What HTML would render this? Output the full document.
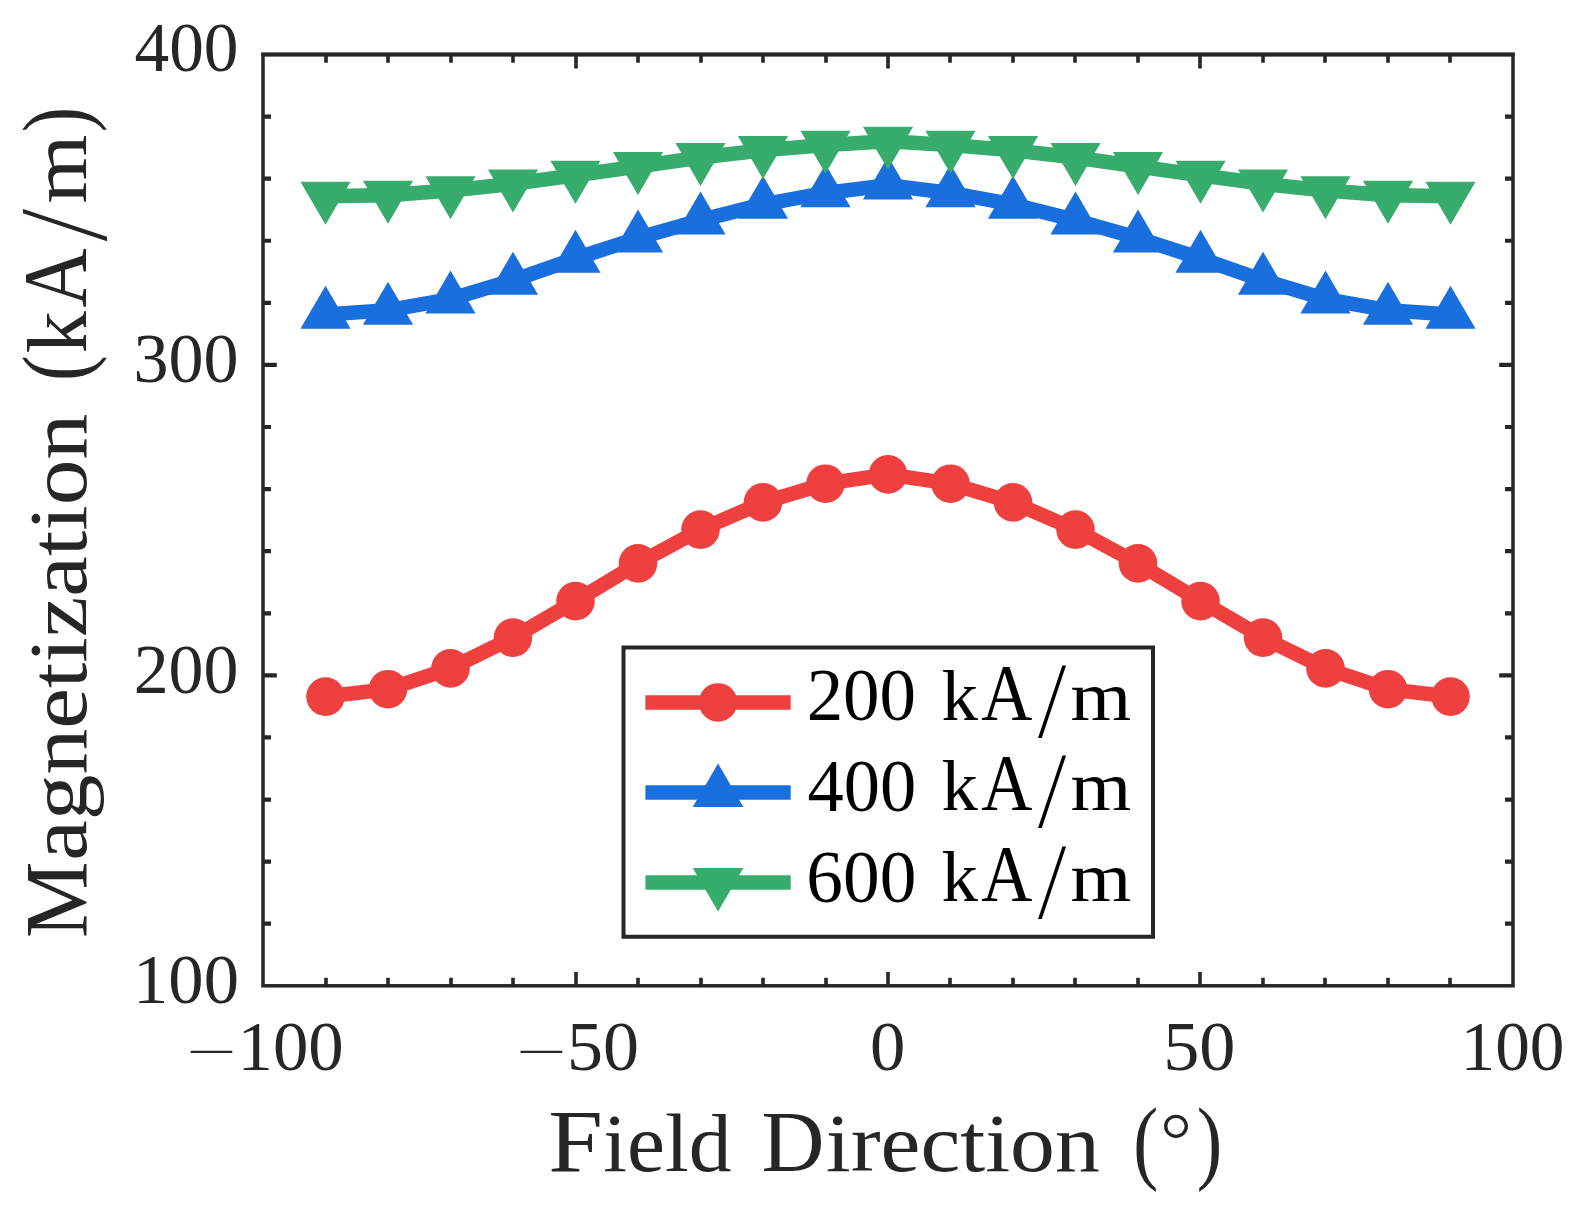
<!DOCTYPE html>
<html lang="en">
<head>
<meta charset="utf-8">
<title>Magnetization vs Field Direction</title>
<style>
html,body{margin:0;padding:0;background:#fff;}
body{width:1579px;height:1211px;overflow:hidden;}
svg{display:block;}
text{font-family:"Liberation Serif","DejaVu Serif",serif;white-space:pre;}
.thin{font-family:"DejaVu Sans","Liberation Sans",sans-serif;font-weight:200;}
.ital{font-style:italic;}
</style>
</head>
<body>
<svg width="1579" height="1211" viewBox="0 0 1579 1211">
<rect x="0" y="0" width="1579" height="1211" fill="#ffffff"/>
<g stroke="#262626" stroke-width="3.5" fill="none" stroke-linecap="butt">
<rect x="263.0" y="54.5" width="1250.0" height="931.30" stroke-width="3.5"/>
<path d="M261.25,54.5H1514.75" stroke-width="4.15"/>
<path d="M326,985.8V977.80M326,54.5V62.70M388,985.8V977.80M388,54.5V62.70M451,985.8V977.80M451,54.5V62.70M513,985.8V977.80M513,54.5V62.70M576,985.8V972.00M576,54.5V68.50M638,985.8V977.80M638,54.5V62.70M701,985.8V977.80M701,54.5V62.70M763,985.8V977.80M763,54.5V62.70M826,985.8V977.80M826,54.5V62.70M888,985.8V972.00M888,54.5V68.50M950,985.8V977.80M950,54.5V62.70M1013,985.8V977.80M1013,54.5V62.70M1075,985.8V977.80M1075,54.5V62.70M1138,985.8V977.80M1138,54.5V62.70M1200,985.8V972.00M1200,54.5V68.50M1263,985.8V977.80M1263,54.5V62.70M1325,985.8V977.80M1325,54.5V62.70M1388,985.8V977.80M1388,54.5V62.70M1450,985.8V977.80M1450,54.5V62.70" stroke-width="3.6"/>
<path d="M263.0,923.71H271.00M1513.0,923.71H1505.00M263.0,861.63H271.00M1513.0,861.63H1505.00M263.0,799.54H271.00M1513.0,799.54H1505.00M263.0,737.45H271.00M1513.0,737.45H1505.00M263.0,675.37H276.80M1513.0,675.37H1499.20M263.0,613.28H271.00M1513.0,613.28H1505.00M263.0,551.19H271.00M1513.0,551.19H1505.00M263.0,489.11H271.00M1513.0,489.11H1505.00M263.0,427.02H271.00M1513.0,427.02H1505.00M263.0,364.93H276.80M1513.0,364.93H1499.20M263.0,302.85H271.00M1513.0,302.85H1505.00M263.0,240.76H271.00M1513.0,240.76H1505.00M263.0,178.67H271.00M1513.0,178.67H1505.00M263.0,116.59H271.00M1513.0,116.59H1505.00" stroke-width="4.2"/>
</g>
<g fill="#ef4040" stroke="none">
<polyline points="325.50,696.60 388.00,689.20 450.50,668.40 513.00,637.60 575.50,601.10 638.00,563.40 700.50,529.60 763.00,502.40 825.50,483.70 888.00,474.40 950.50,483.70 1013.00,502.40 1075.50,529.60 1138.00,563.40 1200.50,601.10 1263.00,637.60 1325.50,668.40 1388.00,689.20 1450.50,696.60" fill="none" stroke="#ef4040" stroke-width="14.6" stroke-linejoin="round" stroke-linecap="butt"/>
<circle cx="325.50" cy="696.60" r="19.3"/>
<circle cx="388.00" cy="689.20" r="19.3"/>
<circle cx="450.50" cy="668.40" r="19.3"/>
<circle cx="513.00" cy="637.60" r="19.3"/>
<circle cx="575.50" cy="601.10" r="19.3"/>
<circle cx="638.00" cy="563.40" r="19.3"/>
<circle cx="700.50" cy="529.60" r="19.3"/>
<circle cx="763.00" cy="502.40" r="19.3"/>
<circle cx="825.50" cy="483.70" r="19.3"/>
<circle cx="888.00" cy="474.40" r="19.3"/>
<circle cx="950.50" cy="483.70" r="19.3"/>
<circle cx="1013.00" cy="502.40" r="19.3"/>
<circle cx="1075.50" cy="529.60" r="19.3"/>
<circle cx="1138.00" cy="563.40" r="19.3"/>
<circle cx="1200.50" cy="601.10" r="19.3"/>
<circle cx="1263.00" cy="637.60" r="19.3"/>
<circle cx="1325.50" cy="668.40" r="19.3"/>
<circle cx="1388.00" cy="689.20" r="19.3"/>
<circle cx="1450.50" cy="696.60" r="19.3"/>
</g>
<g fill="#1a6fde" stroke="none">
<polyline points="325.50,314.50 388.00,310.30 450.50,299.10 513.00,280.30 575.50,258.50 638.00,238.10 700.50,220.20 763.00,204.40 825.50,192.90 888.00,185.20 950.50,192.90 1013.00,204.40 1075.50,220.20 1138.00,238.10 1200.50,258.50 1263.00,280.30 1325.50,299.10 1388.00,310.30 1450.50,314.50" fill="none" stroke="#1a6fde" stroke-width="14.6" stroke-linejoin="round" stroke-linecap="butt"/>
<path d="M325.50,285.83L350.60,328.83L300.40,328.83ZM388.00,281.63L413.10,324.63L362.90,324.63ZM450.50,270.43L475.60,313.43L425.40,313.43ZM513.00,251.63L538.10,294.63L487.90,294.63ZM575.50,229.83L600.60,272.83L550.40,272.83ZM638.00,209.43L663.10,252.43L612.90,252.43ZM700.50,191.53L725.60,234.53L675.40,234.53ZM763.00,175.73L788.10,218.73L737.90,218.73ZM825.50,164.23L850.60,207.23L800.40,207.23ZM888.00,156.53L913.10,199.53L862.90,199.53ZM950.50,164.23L975.60,207.23L925.40,207.23ZM1013.00,175.73L1038.10,218.73L987.90,218.73ZM1075.50,191.53L1100.60,234.53L1050.40,234.53ZM1138.00,209.43L1163.10,252.43L1112.90,252.43ZM1200.50,229.83L1225.60,272.83L1175.40,272.83ZM1263.00,251.63L1288.10,294.63L1237.90,294.63ZM1325.50,270.43L1350.60,313.43L1300.40,313.43ZM1388.00,281.63L1413.10,324.63L1362.90,324.63ZM1450.50,285.83L1475.60,328.83L1425.40,328.83Z"/>
</g>
<g fill="#38ac6c" stroke="none">
<polyline points="325.50,196.20 388.00,195.10 450.50,190.50 513.00,183.80 575.50,175.20 638.00,166.40 700.50,157.40 763.00,150.30 825.50,145.00 888.00,141.20 950.50,145.00 1013.00,150.30 1075.50,157.40 1138.00,166.40 1200.50,175.20 1263.00,183.80 1325.50,190.50 1388.00,195.10 1450.50,196.20" fill="none" stroke="#38ac6c" stroke-width="14.6" stroke-linejoin="round" stroke-linecap="butt"/>
<path d="M325.50,224.87L350.60,181.87L300.40,181.87ZM388.00,223.77L413.10,180.77L362.90,180.77ZM450.50,219.17L475.60,176.17L425.40,176.17ZM513.00,212.47L538.10,169.47L487.90,169.47ZM575.50,203.87L600.60,160.87L550.40,160.87ZM638.00,195.07L663.10,152.07L612.90,152.07ZM700.50,186.07L725.60,143.07L675.40,143.07ZM763.00,178.97L788.10,135.97L737.90,135.97ZM825.50,173.67L850.60,130.67L800.40,130.67ZM888.00,169.87L913.10,126.87L862.90,126.87ZM950.50,173.67L975.60,130.67L925.40,130.67ZM1013.00,178.97L1038.10,135.97L987.90,135.97ZM1075.50,186.07L1100.60,143.07L1050.40,143.07ZM1138.00,195.07L1163.10,152.07L1112.90,152.07ZM1200.50,203.87L1225.60,160.87L1175.40,160.87ZM1263.00,212.47L1288.10,169.47L1237.90,169.47ZM1325.50,219.17L1350.60,176.17L1300.40,176.17ZM1388.00,223.77L1413.10,180.77L1362.90,180.77ZM1450.50,224.87L1475.60,181.87L1425.40,181.87Z"/>
</g>
<rect x="623.5" y="647.5" width="529.5" height="289.25" fill="#ffffff" stroke="#262626" stroke-width="4.0"/>
<g fill="#ef4040" stroke="none">
<line x1="645.4" y1="702.45" x2="790.7" y2="702.45" stroke="#ef4040" stroke-width="14.6"/>
<circle cx="718.05" cy="702.45" r="19.3"/>
</g>
<g fill="#1a6fde" stroke="none">
<line x1="645.4" y1="792.5" x2="790.7" y2="792.5" stroke="#1a6fde" stroke-width="14.6"/>
<path d="M718.05,763.55L743.40,806.98L692.70,806.98Z"/>
</g>
<g fill="#38ac6c" stroke="none">
<line x1="645.4" y1="882.45" x2="790.7" y2="882.45" stroke="#38ac6c" stroke-width="14.6"/>
<path d="M718.05,911.40L743.40,867.97L692.70,867.97Z"/>
</g>
<g fill="#262626">
<text><tspan x="134.55" y="71.30" font-size="69.50" textLength="103.99" lengthAdjust="spacingAndGlyphs">400</tspan></text>
<text><tspan x="133.45" y="382.00" font-size="69.50" textLength="105.05" lengthAdjust="spacingAndGlyphs">300</tspan></text>
<text><tspan x="133.70" y="692.80" font-size="69.50" textLength="104.78" lengthAdjust="spacingAndGlyphs">200</tspan></text>
<text><tspan x="133.05" y="1003.20" font-size="69.50" textLength="105.89" lengthAdjust="spacingAndGlyphs">100</tspan></text>
<text><tspan class="thin" x="183.80" y="1069.63" font-size="57.50" textLength="55.55" lengthAdjust="spacingAndGlyphs">−</tspan><tspan x="237.55" y="1070.20" font-size="69.50" textLength="106.16" lengthAdjust="spacingAndGlyphs">100</tspan></text>
<text><tspan class="thin" x="513.50" y="1069.63" font-size="57.50" textLength="55.88" lengthAdjust="spacingAndGlyphs">−</tspan><tspan x="566.95" y="1070.20" font-size="69.50" textLength="71.99" lengthAdjust="spacingAndGlyphs">50</tspan></text>
<text><tspan x="869.95" y="1070.20" font-size="69.50" textLength="35.34" lengthAdjust="spacingAndGlyphs">0</tspan></text>
<text><tspan x="1163.15" y="1070.20" font-size="69.50" textLength="72.27" lengthAdjust="spacingAndGlyphs">50</tspan></text>
<text><tspan x="1460.50" y="1070.20" font-size="69.50" textLength="103.98" lengthAdjust="spacingAndGlyphs">100</tspan></text>
<text><tspan x="548.15" y="1170.88" font-size="88.17" textLength="54.61" lengthAdjust="spacingAndGlyphs">F</tspan><tspan x="603.15" y="1170.80" font-size="83.00" textLength="128.31" lengthAdjust="spacingAndGlyphs">ield</tspan> <tspan x="761.50" y="1170.63" font-size="87.79" textLength="62.96" lengthAdjust="spacingAndGlyphs">D</tspan><tspan x="825.80" y="1170.80" font-size="83.00" textLength="273.99" lengthAdjust="spacingAndGlyphs">irection</tspan> <tspan x="1133.25" y="1172.10" font-size="93.28" textLength="24.94" lengthAdjust="spacingAndGlyphs">(</tspan><tspan class="thin" x="1153.85" y="1176.73" font-size="88.13" textLength="44.54" lengthAdjust="spacingAndGlyphs">°</tspan><tspan x="1196.80" y="1172.10" font-size="93.01" textLength="25.51" lengthAdjust="spacingAndGlyphs">)</tspan></text>
<text transform="translate(86.30,935.60) rotate(-90)"><tspan x="-2.50" y="-0.05" font-size="88.79" textLength="76.47" lengthAdjust="spacingAndGlyphs">M</tspan><tspan x="74.75" y="0.00" font-size="83.00" textLength="447.05" lengthAdjust="spacingAndGlyphs">agnetization</tspan> <tspan x="554.50" y="0.87" font-size="92.95" textLength="25.66" lengthAdjust="spacingAndGlyphs">(</tspan><tspan x="582.40" y="-0.16" font-size="84.30" textLength="42.11" lengthAdjust="spacingAndGlyphs">k</tspan><tspan x="628.05" y="-0.17" font-size="91.98" textLength="59.24" lengthAdjust="spacingAndGlyphs">A</tspan><tspan class="ital" x="698.15" y="19.49" font-size="125.54" textLength="22.30" lengthAdjust="spacingAndGlyphs">/</tspan><tspan x="732.15" y="-0.02" font-size="80.07" textLength="68.86" lengthAdjust="spacingAndGlyphs">m</tspan><tspan x="803.40" y="0.87" font-size="92.95" textLength="25.42" lengthAdjust="spacingAndGlyphs">)</tspan></text>
</g>
<g fill="#000000">
<text><tspan x="806.65" y="720.47" font-size="73.81" textLength="109.44" lengthAdjust="spacingAndGlyphs">200</tspan> <tspan x="941.60" y="719.99" font-size="72.51" textLength="36.44" lengthAdjust="spacingAndGlyphs">k</tspan><tspan x="981.35" y="720.03" font-size="79.42" textLength="51.07" lengthAdjust="spacingAndGlyphs">A</tspan><tspan class="ital" x="1041.15" y="736.98" font-size="108.89" textLength="19.43" lengthAdjust="spacingAndGlyphs">/</tspan><tspan x="1070.45" y="720.02" font-size="70.61" textLength="60.79" lengthAdjust="spacingAndGlyphs">m</tspan></text>
<text><tspan x="807.50" y="810.87" font-size="73.81" textLength="108.69" lengthAdjust="spacingAndGlyphs">400</tspan> <tspan x="941.60" y="810.39" font-size="72.51" textLength="36.44" lengthAdjust="spacingAndGlyphs">k</tspan><tspan x="981.35" y="810.43" font-size="79.42" textLength="51.07" lengthAdjust="spacingAndGlyphs">A</tspan><tspan class="ital" x="1041.15" y="827.38" font-size="108.76" textLength="19.51" lengthAdjust="spacingAndGlyphs">/</tspan><tspan x="1070.45" y="810.42" font-size="70.61" textLength="60.79" lengthAdjust="spacingAndGlyphs">m</tspan></text>
<text><tspan x="806.35" y="901.57" font-size="73.81" textLength="109.98" lengthAdjust="spacingAndGlyphs">600</tspan> <tspan x="941.60" y="901.09" font-size="72.51" textLength="36.44" lengthAdjust="spacingAndGlyphs">k</tspan><tspan x="981.35" y="901.13" font-size="79.42" textLength="51.07" lengthAdjust="spacingAndGlyphs">A</tspan><tspan class="ital" x="1041.15" y="918.08" font-size="108.76" textLength="19.51" lengthAdjust="spacingAndGlyphs">/</tspan><tspan x="1070.45" y="901.12" font-size="70.61" textLength="60.79" lengthAdjust="spacingAndGlyphs">m</tspan></text>
</g>
</svg>
</body>
</html>
